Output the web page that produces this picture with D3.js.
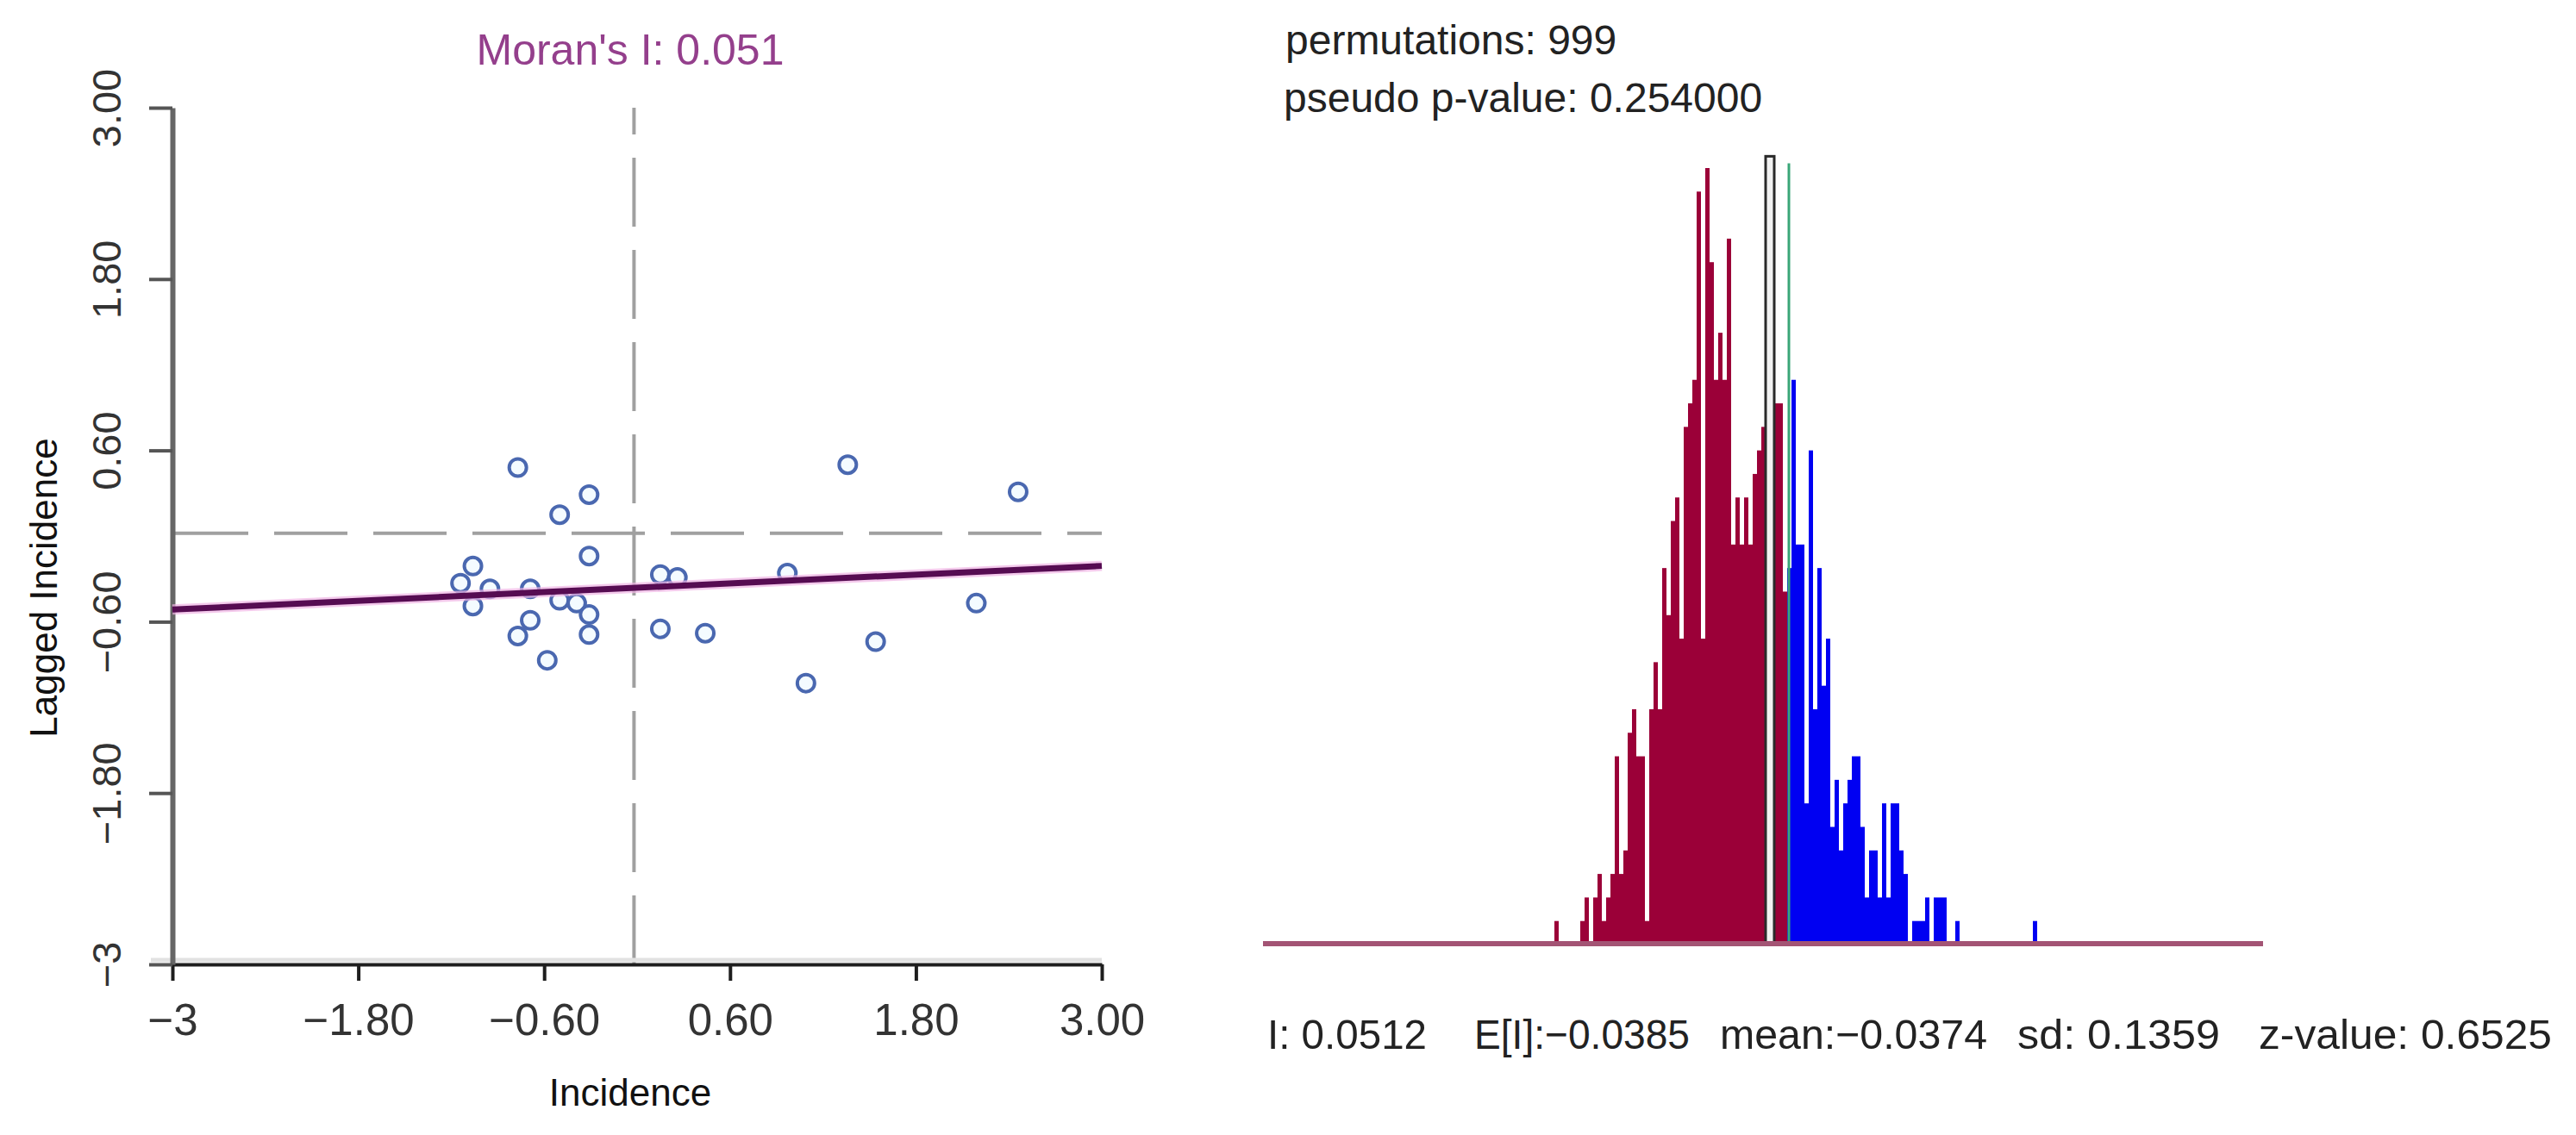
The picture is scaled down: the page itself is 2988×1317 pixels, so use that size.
<!DOCTYPE html>
<html>
<head>
<meta charset="utf-8">
<script src="https://cdn.jsdelivr.net/npm/d3@7"></script>
<style>
  html, body { margin: 0; padding: 0; background: #ffffff; }
  svg { display: block; }
  text { font-family: "Liberation Sans", Arial, sans-serif; }
</style>
</head>
<body>
<svg id="chart" width="2988" height="1317"></svg>
<script>
// ---------------- DATA ----------------
const chartTitle = "Moran's I: 0.051";
const xLabel = "Incidence";
const yLabel = "Lagged Incidence";
const tickValues = [-3, -1.8, -0.6, 0.6, 1.8, 3];
const xTickLabels = ["\u22123", "\u22121.80", "\u22120.60", "0.60", "1.80", "3.00"];
const yTickLabels = ["\u22123", "\u22121.80", "\u22120.60", "0.60", "1.80", "3.00"];

// standardized incidence (x) and spatially lagged incidence (y)
const incidence = [-0.77, -0.31, -0.50, -0.31, -1.06, -1.14, -0.95, -1.06, -0.69, -0.50, -0.39, -0.31, -0.69,
                   -0.77, -0.31, -0.58, 0.15, 0.26, 0.97, 0.15, 0.44, 1.09, 1.36, 2.46, 2.19, 1.54];
const lagged    = [0.48, 0.29, 0.15, -0.14, -0.21, -0.33, -0.37, -0.49, -0.37, -0.45, -0.47, -0.55, -0.59,
                   -0.70, -0.69, -0.87, -0.27, -0.29, -0.26, -0.65, -0.68, -1.03, 0.50, 0.31, -0.47, -0.74];
const regSlope = 0.051;
const regIntercept = -0.362;
const meanX = -0.02;
const meanY = 0.02;

// permutation histogram (counts per bin, in order)
const binCounts = [1,0,0,0,0,0,1,2,0,2,3,1,2,3,8,3,4,9,10,8,8,1,10,12,10,16,14,18,19,13,22,23,24,32,13,33,
                   29,24,26,24,30,17,19,17,19,17,20,21,22,0,0,23,23,15,16,24,17,17,6,21,10,16,11,13,5,7,4,6,
                   7,8,8,5,2,4,4,2,6,2,6,6,4,3,0,1,1,1,2,0,2,2,2,0,0,1,0,0,0,0,0,0,0,0,0,0,0,0,0,0,0,0,0,1];
const observedBins = [49, 51];   // bin span of the observed-statistic box
const observedHeight = 33.5;
const refLineBin = 54;           // green reference line
const refLineHeight = 33.2;
const histDomain = [-67.6, 164.4];
const permText = "permutations: 999";
const pText = "pseudo p-value: 0.254000";
const statLabels = ["I: 0.0512", "E[I]:\u22120.0385", "mean:\u22120.0374", "sd: 0.1359", "z-value: 0.6525"];

// ---------------- DRAW ----------------
const svg = d3.select("#chart");

// ===== Scatter plot =====
const xS = d3.scaleLinear().domain([-3, 3]).range([200, 1278]);
const yS = d3.scaleLinear().domain([-3, 3]).range([1119, 125]);

svg.append("text").attr("x", 731).attr("y", 75).attr("text-anchor", "middle")
  .attr("font-size", 50).attr("fill", "#943f8c").text(chartTitle);

// dashed mean lines
svg.append("line")
  .attr("x1", xS(meanX)).attr("x2", xS(meanX)).attr("y1", yS(-3)).attr("y2", yS(3))
  .attr("stroke", "#a0a0a0").attr("stroke-width", 4).attr("stroke-dasharray", "80 27");
svg.append("line")
  .attr("x1", xS(-3) + 3).attr("x2", xS(3)).attr("y1", yS(meanY)).attr("y2", yS(meanY))
  .attr("stroke", "#a0a0a0").attr("stroke-width", 4).attr("stroke-dasharray", "85 30");

// light shadow above x axis
svg.append("line").attr("x1", 175).attr("x2", xS(3)).attr("y1", yS(-3) - 5).attr("y2", yS(-3) - 5)
  .attr("stroke", "#e2e2e2").attr("stroke-width", 5);

// axes
const xAxis = d3.axisBottom(xS).tickValues(tickValues).tickFormat((d, i) => xTickLabels[i])
  .tickSize(19).tickSizeOuter(0);
const gx = svg.append("g").attr("transform", `translate(0,${yS(-3)})`).call(xAxis);
gx.select(".domain").attr("stroke", "#1e1e1e").attr("stroke-width", 4);
gx.selectAll(".tick line").attr("stroke", "#1e1e1e").attr("stroke-width", 4);
gx.selectAll(".tick text").attr("y", 82).attr("dy", 0).attr("font-size", 51)
  .attr("fill", "#333").attr("font-family", "Liberation Sans, Arial, sans-serif");

const yAxis = d3.axisLeft(yS).tickValues(tickValues).tickFormat((d, i) => yTickLabels[i])
  .tickSize(27).tickSizeOuter(0);
const gy = svg.append("g").attr("transform", `translate(${xS(-3)},0)`).call(yAxis);
gy.select(".domain").attr("stroke", "#666").attr("stroke-width", 6);
gy.selectAll(".tick line").attr("stroke", "#555").attr("stroke-width", 4);
gy.selectAll(".tick text").attr("x", 0).attr("y", -60).attr("dy", 0).attr("dx", 0)
  .attr("transform", "rotate(-90)").attr("text-anchor", "middle").attr("font-size", 47)
  .attr("fill", "#333").attr("font-family", "Liberation Sans, Arial, sans-serif");

// axis titles
svg.append("text").attr("x", 731).attr("y", 1283).attr("text-anchor", "middle")
  .attr("font-size", 44).attr("fill", "#111").text(xLabel);
svg.append("text").attr("transform", "translate(66,682) rotate(-90)").attr("text-anchor", "middle")
  .attr("font-size", 44).attr("fill", "#111").text(yLabel);

// points
const pts = incidence.map((x, i) => ({x, y: lagged[i]}));
svg.append("g").selectAll("circle").data(pts).join("circle")
  .attr("cx", d => xS(d.x)).attr("cy", d => yS(d.y)).attr("r", 10)
  .attr("fill", "#f4fbff").attr("stroke", "#4a68b0").attr("stroke-width", 4);

// regression line
const regLine = d3.line().x(d => xS(d)).y(d => yS(regIntercept + regSlope * d));
svg.append("path").datum([-3, 3]).attr("d", regLine)
  .attr("stroke", "#f0b4e4").attr("stroke-width", 12).attr("fill", "none").attr("opacity", 0.7);
svg.append("path").datum([-3, 3]).attr("d", regLine)
  .attr("stroke", "#560c52").attr("stroke-width", 7).attr("fill", "none");

// ===== Histogram =====
const xH = d3.scaleLinear().domain(histDomain).range([1465, 2625]);
const yH = d3.scaleLinear().domain([0, 33]).range([1096, 195]);

svg.append("text").attr("x", 1491).attr("y", 63).attr("font-size", 48).attr("fill", "#222").text(permText);
svg.append("text").attr("x", 1489).attr("y", 130).attr("font-size", 48).attr("fill", "#222").text(pText);

const bins = binCounts.map((c, i) => ({i, c})).filter(d => d.c > 0);
svg.append("g").selectAll("rect").data(bins).join("rect")
  .attr("x", d => xH(d.i)).attr("width", d => xH(d.i + 1) - xH(d.i))
  .attr("y", d => yH(d.c)).attr("height", d => yH(0) - yH(d.c))
  .attr("fill", d => d.i < refLineBin ? "#9b0038" : "#0000f2");

// observed statistic box
svg.append("rect")
  .attr("x", xH(observedBins[0])).attr("width", xH(observedBins[1]) - xH(observedBins[0]))
  .attr("y", yH(observedHeight)).attr("height", yH(0) - yH(observedHeight))
  .attr("fill", "#f2f2f2").attr("stroke", "#2a2a2a").attr("stroke-width", 3);

// green reference line
svg.append("line")
  .attr("x1", xH(refLineBin) + 2).attr("x2", xH(refLineBin) + 2)
  .attr("y1", yH(refLineHeight)).attr("y2", yH(0))
  .attr("stroke", "#3aa678").attr("stroke-width", 3);

// baseline
svg.append("line").attr("x1", xH(histDomain[0])).attr("x2", xH(histDomain[1]))
  .attr("y1", 1095).attr("y2", 1095).attr("stroke", "#a35474").attr("stroke-width", 6);

// statistics line
const statX = [1470, 1710, 1995, 2340, 2620];
const statW = [185, 250, 310, 235, 340];
svg.append("g").selectAll("text").data(statLabels).join("text")
  .attr("x", (d, i) => statX[i]).attr("y", 1217).attr("font-size", 49).attr("fill", "#222")
  .attr("textLength", (d, i) => statW[i]).attr("lengthAdjust", "spacingAndGlyphs")
  .text(d => d);
</script>
</body>
</html>
